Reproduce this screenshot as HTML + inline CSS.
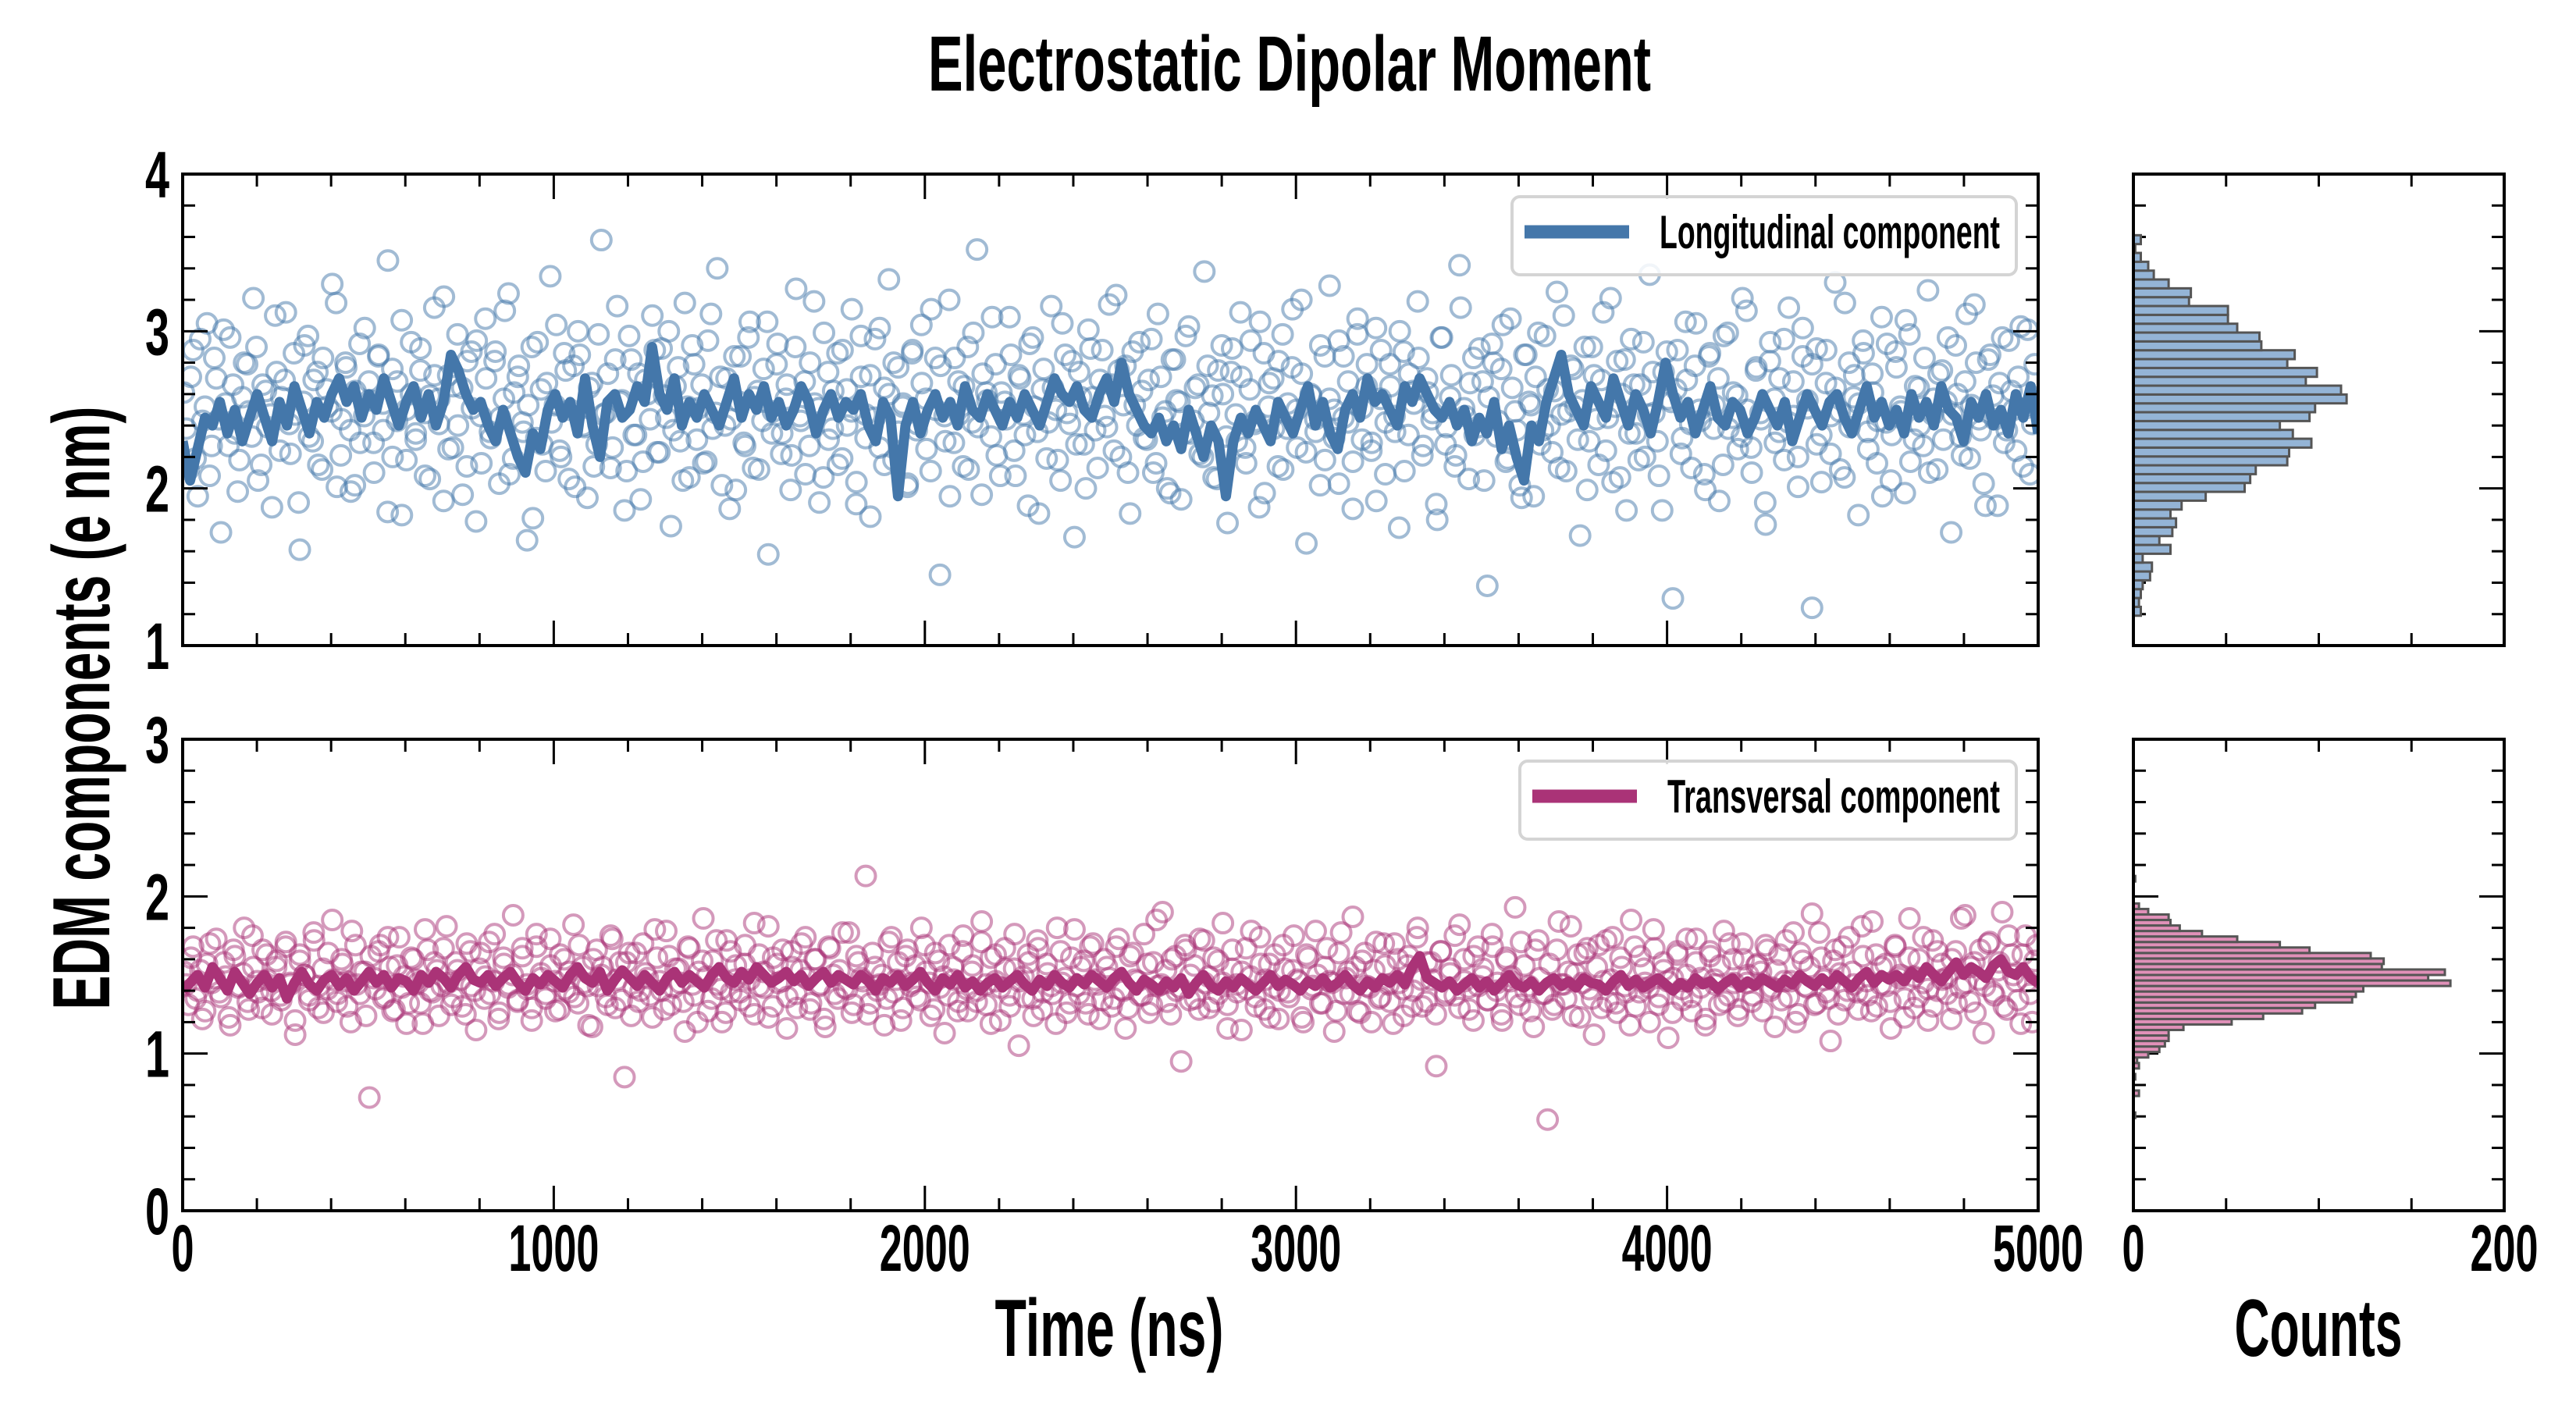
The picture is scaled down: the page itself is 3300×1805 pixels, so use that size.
<!DOCTYPE html>
<html><head><meta charset="utf-8"><style>
html,body{margin:0;padding:0;background:#fff;}
svg text{font-family:"Liberation Sans Narrow","Liberation Sans",sans-serif;font-weight:bold;fill:#000;}
</style></head><body>
<svg id="chart" width="3300" height="1800" viewBox="0 0 3300 1800" xmlns="http://www.w3.org/2000/svg">
<rect width="3300" height="1800" fill="#fff"/>
<text x="1652" y="116" font-size="100" text-anchor="middle" textLength="926" lengthAdjust="spacingAndGlyphs">Electrostatic Dipolar Moment</text>
<text transform="translate(140,907) rotate(-90)" x="0" y="0" font-size="104" text-anchor="middle" textLength="773" lengthAdjust="spacingAndGlyphs">EDM components (e nm)</text>
<text x="1421" y="1737" font-size="104" text-anchor="middle" textLength="293" lengthAdjust="spacingAndGlyphs">Time (ns)</text>
<text x="2970" y="1737" font-size="104" text-anchor="middle" textLength="215" lengthAdjust="spacingAndGlyphs">Counts</text>
<g id="layer"></g>
</svg>
<script>
const longLine=[2.30,2.05,2.25,2.45,2.40,2.55,2.35,2.50,2.30,2.45,2.60,2.45,2.30,2.55,2.40,2.65,2.50,2.35,2.55,2.45,2.60,2.70,2.55,2.65,2.45,2.60,2.50,2.70,2.55,2.40,2.55,2.65,2.45,2.60,2.40,2.55,2.85,2.75,2.60,2.50,2.55,2.40,2.30,2.50,2.35,2.20,2.10,2.35,2.25,2.50,2.60,2.45,2.55,2.35,2.70,2.40,2.20,2.55,2.60,2.45,2.50,2.65,2.55,2.90,2.60,2.50,2.70,2.40,2.55,2.45,2.60,2.50,2.40,2.55,2.70,2.45,2.60,2.50,2.65,2.45,2.55,2.40,2.50,2.65,2.55,2.35,2.50,2.60,2.45,2.55,2.50,2.60,2.40,2.30,2.55,2.45,1.95,2.40,2.55,2.35,2.50,2.60,2.45,2.55,2.40,2.65,2.50,2.45,2.60,2.50,2.40,2.55,2.45,2.60,2.50,2.40,2.55,2.70,2.60,2.55,2.65,2.50,2.45,2.60,2.70,2.55,2.80,2.60,2.50,2.40,2.35,2.45,2.30,2.40,2.25,2.50,2.35,2.20,2.40,2.30,1.95,2.30,2.45,2.35,2.50,2.40,2.30,2.55,2.45,2.35,2.50,2.65,2.40,2.55,2.35,2.25,2.50,2.60,2.45,2.70,2.55,2.60,2.50,2.40,2.65,2.55,2.70,2.60,2.50,2.45,2.55,2.40,2.50,2.30,2.45,2.35,2.55,2.25,2.40,2.20,2.05,2.40,2.30,2.55,2.70,2.85,2.60,2.50,2.40,2.65,2.55,2.45,2.70,2.55,2.40,2.60,2.50,2.35,2.55,2.80,2.60,2.45,2.55,2.35,2.50,2.65,2.45,2.40,2.55,2.50,2.35,2.45,2.60,2.50,2.40,2.55,2.30,2.45,2.60,2.50,2.40,2.55,2.60,2.45,2.35,2.50,2.65,2.45,2.55,2.40,2.50,2.35,2.60,2.45,2.55,2.40,2.65,2.50,2.45,2.30,2.55,2.45,2.60,2.40,2.50,2.35,2.60,2.45,2.65,2.35];
const transLine=[1.40,1.45,1.50,1.42,1.55,1.48,1.40,1.52,1.45,1.38,1.45,1.50,1.42,1.48,1.35,1.45,1.52,1.44,1.40,1.47,1.50,1.43,1.48,1.40,1.46,1.52,1.45,1.50,1.42,1.48,1.46,1.40,1.50,1.45,1.52,1.48,1.42,1.50,1.55,1.47,1.45,1.50,1.43,1.48,1.52,1.45,1.40,1.48,1.44,1.50,1.46,1.42,1.50,1.55,1.48,1.45,1.52,1.40,1.47,1.53,1.48,1.43,1.50,1.45,1.40,1.48,1.52,1.45,1.50,1.46,1.42,1.50,1.55,1.48,1.45,1.52,1.47,1.55,1.50,1.45,1.48,1.52,1.46,1.50,1.43,1.48,1.52,1.45,1.50,1.47,1.44,1.50,1.46,1.40,1.48,1.45,1.50,1.43,1.47,1.52,1.45,1.40,1.48,1.44,1.50,1.42,1.46,1.40,1.45,1.48,1.42,1.46,1.50,1.44,1.40,1.47,1.43,1.50,1.45,1.42,1.48,1.44,1.50,1.46,1.42,1.48,1.52,1.45,1.40,1.47,1.44,1.40,1.46,1.42,1.48,1.38,1.45,1.50,1.43,1.40,1.46,1.42,1.48,1.44,1.40,1.45,1.50,1.43,1.47,1.44,1.40,1.46,1.43,1.48,1.42,1.45,1.50,1.44,1.40,1.46,1.42,1.48,1.45,1.50,1.44,1.55,1.62,1.48,1.45,1.42,1.46,1.40,1.44,1.48,1.42,1.46,1.40,1.45,1.50,1.44,1.42,1.46,1.40,1.45,1.48,1.43,1.46,1.42,1.48,1.45,1.44,1.40,1.46,1.50,1.43,1.47,1.42,1.45,1.48,1.44,1.40,1.45,1.42,1.48,1.44,1.46,1.41,1.45,1.48,1.42,1.46,1.43,1.48,1.45,1.42,1.47,1.44,1.50,1.46,1.43,1.48,1.44,1.50,1.46,1.42,1.48,1.52,1.45,1.50,1.47,1.50,1.46,1.52,1.48,1.55,1.50,1.46,1.52,1.58,1.50,1.55,1.52,1.48,1.56,1.60,1.52,1.50,1.55,1.48,1.45];
const longPts=[2.61,2.12,2.88,1.95,2.43,3.05,2.27,2.70,1.72,2.54,2.96,2.35,2.18,2.80,2.49,3.21,2.05,2.66,2.39,1.88,2.74,2.58,3.12,2.22,2.47,1.61,2.91,2.33,2.69,2.15,2.83,2.52,3.30,2.01,2.44,2.77,1.98,2.62,2.29,3.02,2.56,2.10,2.85,2.37,3.45,2.20,2.68,1.83,2.50,2.93,2.31,2.75,2.08,2.59,3.15,2.41,1.92,2.72,2.26,2.98,2.64,2.14,2.87,1.79,2.46,3.08,2.36,2.81,2.03,2.57,3.24,2.19,2.71,2.42,1.67,2.90,2.32,2.63,2.11,3.35,2.53,2.24,2.86,2.06,2.78,3.00,2.40,1.94,2.67,2.28,3.58,2.48,2.13,2.82,2.55,1.86,2.97,2.34,2.73,2.17,2.60,3.10,2.23,2.89,2.45,1.76,2.65,2.30,3.18,2.07,2.79,2.51,2.16,2.94,2.38,3.40,2.02,2.70,2.44,1.99,2.84,2.27,3.06,2.58,2.12,2.76,1.58,2.49,2.92,2.35,2.66,2.21,3.27,2.43,2.09,2.80,2.54,1.91,2.99,2.31,2.62,2.15,2.88,2.40,3.14,2.04,2.71,2.47,1.82,2.95,2.26,2.64,3.33,2.18,2.77,2.52,2.01,2.86,2.37,3.04,2.57,2.11,2.83,1.45,2.46,3.20,2.29,2.68,2.14,2.90,2.42,3.52,1.96,2.61,2.33,2.79,2.08,2.55,3.09,2.24,2.72,2.47,1.89,2.96,2.36,2.63,2.19,3.16,2.50,2.05,2.85,2.41,1.69,2.74,2.28,3.01,2.58,2.13,2.88,2.39,2.66,3.23,2.20,2.78,1.84,2.53,2.93,2.32,2.69,2.10,3.11,2.45,2.00,2.82,2.56,1.93,2.97,2.35,2.64,2.22,3.38,2.48,2.07,2.75,2.60,1.78,2.89,2.30,2.71,2.16,2.94,2.43,3.06,1.97,2.67,2.38,2.81,2.12,2.54,3.14,2.26,2.73,1.65,2.59,2.36,2.91,2.18,3.29,2.50,2.03,2.84,2.42,1.87,2.98,2.31,2.65,2.24,3.02,2.57,2.09,2.79,2.46,1.75,2.87,2.34,2.62,3.19,2.21,2.70,2.44,1.90,2.96,2.28,2.58,2.14,3.42,2.51,2.06,2.83,2.39,2.68,1.38,2.92,2.33,2.76,2.17,3.08,2.49,2.02,2.85,2.55,1.95,2.99,2.37,2.63,2.23,3.25,2.47,2.11,2.78,2.52,1.70,2.90,2.30,2.72,2.15,3.12,2.45,2.04,2.81,2.60,1.86,2.95,2.35,2.66,2.20,3.36,2.48,2.08,2.74,2.57,1.30,2.88,2.32,2.69,2.13,3.05,2.43,1.99,2.86,2.53,1.92,2.97,2.38,2.61,2.25,3.21,2.50,2.10,2.77,2.44,1.77,2.93,2.29,2.70,2.18,3.15,2.46,2.01,2.84,2.56,1.24,2.89,2.34,2.67,2.22,3.31,2.49,2.07,2.80,2.58,1.83,2.94,2.36,2.73,2.16,3.09,2.42,2.05,2.87,2.52,1.97,2.98,2.31,2.64,2.27,3.26,2.47,2.12,2.75,2.55,1.72,2.91,2.33,2.68,2.19,3.17,2.44,2.03,2.82,2.59,1.89,2.96,2.37,2.62,2.24,3.03,2.51,2.09,2.79];
const longPts2=[2.38,2.71,2.19,2.95,2.52,2.08,2.83,2.44,3.01,2.27,2.66,1.98,2.58,2.79,2.33,2.90,2.15,2.62,2.47,3.10,2.24,2.69,2.41,2.86,1.91,2.55,2.97,2.30,2.74,2.12,2.63,2.49,3.18,2.21,2.80,2.37,2.02,2.92,2.46,2.68,2.29,2.84,2.54,1.85,2.76,2.43,3.07,2.18,2.60,2.35,2.89,2.48,2.06,2.72,2.57,3.22,2.25,2.65,2.40,1.96,2.81,2.51,2.94,2.16,2.70,2.32,2.87,2.45,3.13,2.09,2.61,2.78,2.36,2.53,1.81,2.93,2.28,2.67,2.42,3.04,2.20,2.75,2.50,2.01,2.85,2.39,2.64,2.14,2.98,2.47,2.73,2.26,3.16,2.56,2.11,2.82,2.34,1.93,2.69,2.44,2.88,2.23,2.59,3.00,2.37,2.77,2.05,2.52,2.91,2.31,2.66,2.17,3.11,2.48,2.71,2.40,1.87,2.84,2.55,2.29,2.96,2.13,2.62,2.43,3.06,2.35,2.79,2.22,2.57,1.99,2.90,2.46,2.68,2.27,3.19,2.51,2.07,2.74,2.38,2.86,2.19,2.63,2.49,1.90,2.97,2.32,2.72,2.45,3.02,2.15,2.60,2.80,2.36,2.54,2.03,2.88,2.41,2.67,2.25,3.14,2.50,2.78,2.30,1.95,2.83,2.47,2.65,2.12,2.99,2.39,2.73,2.56,3.09,2.21,2.61,2.44,2.85,2.08,2.70,2.34,2.92,2.52,1.84,2.76,2.42,2.64,2.18,3.05,2.48,2.81,2.28,2.58,2.00,2.89,2.37,2.69,2.46,3.17,2.24,2.75,2.53,2.10,2.87,2.40,2.62,2.31,2.95,2.16,2.71,2.49,1.97,2.82,2.55,2.35,3.03,2.43,2.66,2.20,2.78,2.59,2.06,2.91,2.33,2.74,2.47,3.12,2.26,2.63,2.41,1.88,2.86,2.52,2.70,2.14,2.98,2.38,2.77,2.50,3.20,2.23,2.60,2.44,2.02,2.84,2.57,2.32,2.94,2.45,2.68,2.17,3.08,2.51,2.79,2.29,1.92,2.88,2.42,2.65,2.36,3.00,2.11,2.73,2.54,2.83,2.27,2.61,2.48,1.80,2.96,2.39,2.72,2.21,3.15,2.46,2.67,2.34,2.89,2.05,2.58,2.80,2.43,3.04,2.19,2.64,2.37,1.94,2.85,2.53,2.71,2.28,2.97,2.40,2.62,2.13,3.10,2.49,2.76,2.31,2.56,1.99,2.90,2.44,2.69,2.24,3.21,2.52,2.07,2.82,2.35,2.66,2.18,2.93,2.47,2.74,2.30,1.86,2.87,2.55,2.63,2.22,3.06,2.41,2.78,2.50,2.09,2.84,2.38,2.70,2.15,2.99,2.45,2.59,2.33,3.13,2.26,2.75,2.48,1.91,2.81,2.57,2.36,2.95,2.42,2.68,2.20,3.02,2.51,2.79,2.28,2.04,2.88,2.46,2.64,2.12,3.18,2.39,2.72,2.54,2.86,2.25,2.61,2.43,1.95,2.92,2.34,2.77,2.49,3.07,2.17,2.65,2.40,2.83,2.10,2.57,2.73,2.31,2.96,2.47,2.60,2.21,3.11,2.53,2.80,2.37,1.89,2.85,2.44,2.67,2.29,2.94,2.50,2.71,2.14,3.01,2.41,2.58];
const transPts=[1.52,1.31,1.68,1.40,1.22,1.57,1.45,1.73,1.36,1.49,1.18,1.62,1.43,1.80,1.28,1.55,1.39,1.66,1.47,1.25,1.59,1.34,1.71,1.44,1.12,1.63,1.50,1.37,1.77,1.29,1.54,1.41,1.85,1.33,1.60,1.46,1.20,1.69,1.38,1.52,0.72,1.48,1.65,1.35,1.74,1.27,1.56,1.42,1.19,1.61,1.47,1.32,1.79,1.40,1.58,1.24,1.67,1.45,1.36,1.53,1.30,1.70,1.43,1.15,1.64,1.49,1.38,1.76,1.26,1.57,1.44,1.88,1.34,1.62,1.41,1.21,1.68,1.51,1.35,1.73,1.46,1.28,1.60,1.39,1.82,1.32,1.55,1.43,1.17,1.66,1.50,1.36,1.75,1.29,1.58,0.85,1.64,1.42,1.33,1.70,1.48,1.23,1.61,1.40,1.78,1.31,1.54,1.45,1.14,1.67,1.37,1.52,1.86,1.27,1.59,1.44,1.20,1.72,1.39,1.56,1.34,1.69,1.47,1.25,1.63,1.42,1.81,1.30,1.57,1.46,1.16,1.65,1.38,1.53,1.74,1.28,1.60,1.43,1.22,1.68,1.50,1.35,1.77,1.41,1.26,1.62,1.48,2.13,1.32,1.55,1.44,1.18,1.71,1.39,1.58,1.29,1.66,1.45,1.36,1.80,1.52,1.24,1.64,1.42,1.13,1.69,1.47,1.33,1.75,1.27,1.56,1.40,1.84,1.31,1.61,1.46,1.21,1.67,1.37,1.54,1.05,1.49,1.63,1.35,1.72,1.28,1.57,1.43,1.19,1.65,1.48,1.32,1.79,1.38,1.59,1.25,1.70,1.44,1.34,1.55,1.30,1.68,1.41,1.16,1.62,1.47,1.37,1.76,1.26,1.58,1.43,1.90,1.33,1.60,1.40,0.95,1.66,1.50,1.35,1.73,1.45,1.29,1.61,1.38,1.83,1.31,1.54,1.44,1.15,1.67,1.49,1.36,1.74,1.28,1.57,1.42,1.22,1.69,1.39,1.53,1.47,1.23,1.63,1.41,1.78,1.32,1.55,1.46,1.14,1.64,1.38,1.52,1.87,1.27,1.59,1.43,1.20,1.71,1.36,1.56,1.33,1.70,1.45,1.24,1.62,1.40,1.80,1.30,1.58,1.47,0.92,1.65,1.37,1.54,1.75,1.29,1.60,1.42,1.21,1.68,1.49,1.34,1.76,1.40,1.25,1.61,1.46,1.93,1.31,1.56,1.43,1.17,1.72,1.38,0.58,1.28,1.66,1.44,1.35,1.81,1.51,1.23,1.64,1.41,1.12,1.69,1.46,1.33,1.74,1.26,1.55,1.39,1.85,1.30,1.62,1.45,1.20,1.67,1.36,1.53,1.10,1.48,1.63,1.34,1.73,1.27,1.58,1.42,1.18,1.65,1.47,1.31,1.78,1.37,1.60,1.24,1.70,1.45,1.33,1.56,1.52,1.69,1.40,1.17,1.63,1.46,1.36,1.77,1.25,1.59,1.42,1.89,1.32,1.61,1.39,1.08,1.66,1.51,1.34,1.74,1.44,1.28,1.62,1.37,1.84,1.30,1.55,1.43,1.16,1.68,1.50,1.35,1.86,1.29,1.60,1.45,1.21,1.72,1.40,1.57,1.48,1.22,1.65,1.42,1.88,1.33,1.58,1.47,1.13,1.70,1.39,1.53,1.90,1.28,1.63,1.46,1.19,1.75,1.38,1.59];
const transPts2=[1.44,1.61,1.35,1.53,1.27,1.70,1.48,1.39,1.58,1.23,1.66,1.42,1.51,1.33,1.75,1.46,1.29,1.63,1.40,1.55,1.37,1.68,1.45,1.21,1.59,1.50,1.34,1.72,1.43,1.26,1.64,1.47,1.38,1.57,1.30,1.78,1.44,1.52,1.24,1.62,1.41,1.69,1.36,1.55,1.28,1.74,1.49,1.32,1.60,1.45,1.19,1.66,1.39,1.53,1.43,1.81,1.31,1.58,1.47,1.25,1.65,1.40,1.54,1.35,1.71,1.46,1.22,1.61,1.42,1.50,1.33,1.67,1.44,1.29,1.76,1.48,1.38,1.56,1.27,1.63,1.41,1.52,1.36,1.69,1.45,1.18,1.60,1.43,1.55,1.31,1.73,1.47,1.34,1.58,1.24,1.64,1.40,1.51,1.37,1.79,1.46,1.28,1.62,1.42,1.54,1.33,1.68,1.44,1.20,1.59,1.49,1.35,1.72,1.41,1.26,1.65,1.47,1.39,1.57,1.30,1.83,1.43,1.52,1.23,1.61,1.45,1.66,1.36,1.55,1.29,1.70,1.48,1.32,1.60,1.44,1.17,1.67,1.38,1.53,1.42,1.77,1.31,1.58,1.46,1.25,1.64,1.40,1.50,1.35,1.74,1.47,1.21,1.62,1.43,1.56,1.34,1.69,1.45,1.28,1.59,1.49,1.37,1.55,1.27,1.65,1.41,1.52,1.33,1.71,1.44,1.19,1.63,1.42,1.54,1.30,1.76,1.46,1.36,1.58,1.24,1.67,1.39,1.51,1.38,1.80,1.45,1.26,1.61,1.43,1.55,1.32,1.68,1.47,1.22,1.60,1.48,1.35,1.73,1.40,1.29,1.64,1.46,1.37,1.57,1.31,1.85,1.44,1.53,1.25,1.62,1.42,1.69,1.34,1.56,1.28,1.72,1.49,1.33,1.59,1.45,1.16,1.66,1.39,1.52,1.41,1.78,1.30,1.57,1.47,1.23,1.63,1.40,1.54,1.36,1.75,1.46,1.20,1.61,1.43,1.50,1.32,1.67,1.45,1.27,1.77,1.48,1.38,1.55,1.26,1.64,1.42,1.53,1.35,1.70,1.44,1.19,1.60,1.41,1.56,1.30,1.74,1.47,1.33,1.58,1.25,1.65,1.39,1.51,1.37,1.82,1.46,1.28,1.62,1.43,1.54,1.34,1.68,1.45,1.21,1.59,1.49,1.36,1.71,1.40,1.27,1.66,1.48,1.38,1.57,1.31,1.84,1.44,1.52,1.24,1.63,1.45,1.67,1.35,1.55,1.29,1.72,1.47,1.32,1.61,1.43,1.18,1.68,1.39,1.54,1.42,1.79,1.31,1.58,1.46,1.26,1.65,1.41,1.50,1.36,1.73,1.48,1.22,1.62,1.44,1.56,1.33,1.70,1.45,1.28,1.60,1.50,1.37,1.57,1.27,1.66,1.42,1.53,1.34,1.72,1.46,1.20,1.64,1.43,1.55,1.31,1.77,1.47,1.35,1.59,1.25,1.68,1.40,1.52,1.39,1.81,1.46,1.27,1.63,1.44,1.57,1.33,1.69,1.48,1.23,1.61,1.49,1.36,1.74,1.41,1.30,1.65,1.47,1.38,1.60,1.32,1.86,1.45,1.55,1.26,1.66,1.43,1.71,1.37,1.58,1.30,1.75,1.50,1.34,1.63,1.46,1.20,1.69];
const longHistCounts=[4,3,4,5,9,10,5,20,14,21,23,20,26,39,60,63,66,83,84,96,86,79,95,98,115,112,93,99,83,87,69,68,56,51,51,30,31,19,11,8,4,1,4];
const longHistStart=1.19, longHistWidth=0.0563;
const transHistCounts=[1,0,0,0,3,0,0,1,0,3,2,8,14,17,19,19,27,53,70,91,98,118,120,124,171,159,168,134,135,128,95,79,56,37,25,20,19,8,3,0,0,0,0,1];
const transHistStart=0.59, transHistWidth=0.035;
const xTicks=[0,1000,2000,3000,4000,5000];
const longYTicks=[1,2,3,4];
const transYTicks=[0,1,2,3];
const histXTicks=[0,200];

const NS='http://www.w3.org/2000/svg';
const layer=document.getElementById('layer');
function mk(tag,attrs,parent){const e=document.createElementNS(NS,tag);for(const k in attrs)e.setAttribute(k,attrs[k]);(parent||layer).appendChild(e);return e;}
const L=234,R=2611,HL=2733,HR=3208;
const panels=[{top:223,bot:827,ymin:1,ymax:4},{top:947,bot:1551,ymin:0,ymax:3}];
const xS=t=>L+(t/5000)*(R-L);
const hS=c=>HL+(c/200)*(HR-HL);
function yS(p,v){return p.bot-(v-p.ymin)/(p.ymax-p.ymin)*(p.bot-p.top);}

function drawPanel(pi,ptsA,ptsB,line,color,counts,hStart,hW,yTicks,label,legY,histFill,showX){
  const p=panels[pi];
  const g=mk('g',{});
  
  
  const clipId='clip'+pi;
  const cp=mk('clipPath',{id:clipId},g);mk('rect',{x:L,y:p.top,width:R-L,height:p.bot-p.top},cp);
  const sg=mk('g',{'clip-path':'url(#'+clipId+')'},g);
  
  
  [[ptsA,0.25],[ptsB,0.75]].forEach(([pts,off])=>{
    const dt=5000/pts.length;
    pts.forEach((v,i)=>{const c=mk('circle',{cx:xS((i+off)*dt),cy:yS(p,v),r:12.5,fill:'none',stroke:color,'stroke-width':4,'stroke-opacity':0.5},sg);
      
      });
  });
  const ldt=5000/(line.length-1);
  const d=line.map((v,i)=>(i?'L':'M')+xS(i*ldt).toFixed(1)+' '+yS(p,v).toFixed(1)).join(' ');
  const pl=mk('path',{d:d,fill:'none',stroke:color,'stroke-width':13,'stroke-linejoin':'round'},sg);
  
  
  const fr=mk('rect',{x:L,y:p.top,width:R-L,height:p.bot-p.top,fill:'none',stroke:'#000','stroke-width':4},g);
  
  
  const tk=mk('g',{stroke:'#000','stroke-width':3},g);
  
  
  for(let t=0;t<=5000;t+=200){const big=t%1000===0;const len=big?32:16;const x=xS(t);
    mk('line',{x1:x,x2:x,y1:p.bot,y2:p.bot-len},tk);mk('line',{x1:x,x2:x,y1:p.top,y2:p.top+len},tk);}
  for(let k=0;k<=15;k++){const v=p.ymin+k*0.2;const big=k%5===0;const len=big?32:16;const y=yS(p,v);
    mk('line',{x1:L,x2:L+len,y1:y,y2:y},tk);mk('line',{x1:R,x2:R-len,y1:y,y2:y},tk);
    mk('line',{x1:HL,x2:HL+len,y1:y,y2:y},tk);mk('line',{x1:HR,x2:HR-len,y1:y,y2:y},tk);}
  for(let c=0;c<=200;c+=50){const x=hS(c);mk('line',{x1:x,x2:x,y1:p.bot,y2:p.bot-16},tk);mk('line',{x1:x,x2:x,y1:p.top,y2:p.top+16},tk);}
  yTicks.forEach(v=>{const t=mk('text',{x:217,y:yS(p,v)+30,'font-size':84,'text-anchor':'end',textLength:31,lengthAdjust:'spacingAndGlyphs'},g);t.textContent=v;
    
    });
  if(showX){xTicks.forEach(v=>{const s=String(v);const t=mk('text',{x:xS(v),y:1628,'font-size':84,'text-anchor':'middle',textLength:29*s.length,lengthAdjust:'spacingAndGlyphs'},g);t.textContent=s;
    
    });
    histXTicks.forEach(v=>{const s=String(v);const t=mk('text',{x:hS(v),y:1628,'font-size':84,'text-anchor':'middle',textLength:29*s.length,lengthAdjust:'spacingAndGlyphs'},g);t.textContent=s;
    
    });}
  const lg=mk('g',{},g);
  
  
  const lx=pi===0?1937:1947;
  mk('rect',{x:lx,y:legY,width:2583-lx,height:100,rx:10,fill:'#fff','fill-opacity':0.85,stroke:'#d4d4d4','stroke-width':4},lg);
  mk('line',{x1:lx+16,x2:lx+150,y1:legY+45,y2:legY+45,stroke:color,'stroke-width':17},lg);
  const lt=mk('text',{x:lx+189,y:legY+66,'font-size':60,textLength:2562-lx-189,lengthAdjust:'spacingAndGlyphs'},lg);lt.textContent=label;
  
  
  const hg=mk('g',{},g);
  
  
  counts.forEach((c,i)=>{if(!c)return;const y0=yS(p,hStart+(i+1)*hW),y1=yS(p,hStart+i*hW);
    const b=mk('rect',{x:HL,y:y0,width:hS(c)-HL,height:y1-y0,fill:histFill,stroke:'#555','stroke-width':3},hg);
    
    });
  const hf=mk('rect',{x:HL,y:p.top,width:HR-HL,height:p.bot-p.top,fill:'none',stroke:'#000','stroke-width':4},g);
  
  
}
drawPanel(0,longPts,longPts2,longLine,'#4477aa',longHistCounts,longHistStart,longHistWidth,longYTicks,'Longitudinal component',252,'#94b4d6',false);
drawPanel(1,transPts,transPts2,transLine,'#aa3377',transHistCounts,transHistStart,transHistWidth,transYTicks,'Transversal component',975,'#e090b8',true);
</script>
</body></html>
